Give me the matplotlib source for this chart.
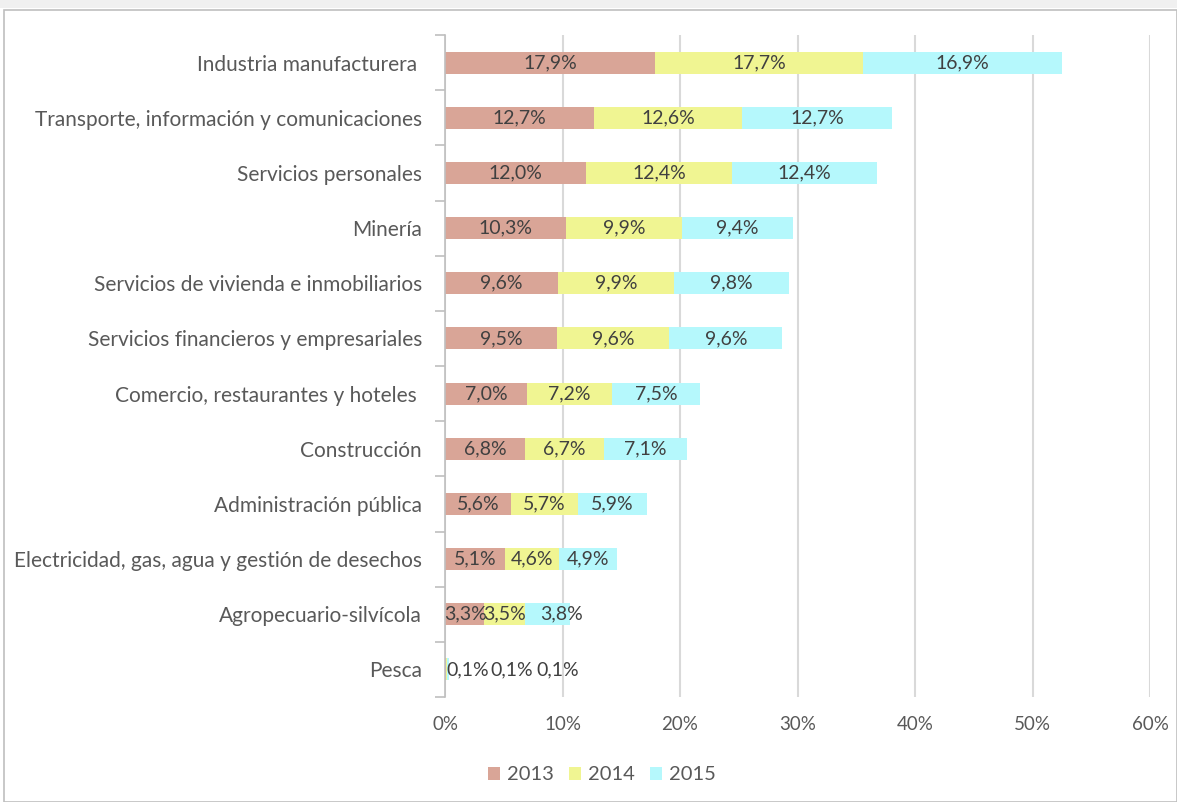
import matplotlib
matplotlib.use("Agg")
import matplotlib.pyplot as plt
from matplotlib.patches import Rectangle
import numpy as np

categories = [
    "Industria manufacturera ",
    "Transporte, información y comunicaciones",
    "Servicios personales",
    "Minería",
    "Servicios de vivienda e inmobiliarios",
    "Servicios financieros y empresariales",
    "Comercio, restaurantes y hoteles ",
    "Construcción",
    "Administración pública",
    "Electricidad, gas, agua y gestión de desechos",
    "Agropecuario-silvícola",
    "Pesca",
]
v2013 = [17.9, 12.7, 12.0, 10.3, 9.6, 9.5, 7.0, 6.8, 5.6, 5.1, 3.3, 0.1]
v2014 = [17.7, 12.6, 12.4, 9.9, 9.9, 9.6, 7.2, 6.7, 5.7, 4.6, 3.5, 0.1]
v2015 = [16.9, 12.7, 12.4, 9.4, 9.8, 9.6, 7.5, 7.1, 5.9, 4.9, 3.8, 0.1]
series = [("2013", v2013), ("2014", v2014), ("2015", v2015)]
xticks = [0, 10, 20, 30, 40, 50, 60]

colors = ["#D9A597", "#F0F592", "#B5F8FC"]
txt = "#404040"
FONT = ["Lato", "DejaVu Sans"]
plt.rcParams["font.family"] = FONT

fig = plt.figure(figsize=(11.77, 8.02), dpi=100)
fig.patches.append(Rectangle((0, 0.99), 1, 0.01, transform=fig.transFigure,
                             facecolor="#F0F0F0", edgecolor="none", zorder=-2))
fig.patches.append(Rectangle((0.0035, 0.0), 0.9965, 0.9875, transform=fig.transFigure,
                             facecolor="white", edgecolor="#BFBFBF", linewidth=1.2, zorder=-1))

ax = fig.add_axes([445/1177, 1 - 697/802, (1150-445)/1177, (697-35)/802])
ax.patch.set_alpha(0)
n = len(categories)
y = np.arange(n)
left = np.zeros(n)
# label offsets (points) for crowded small segments
offsets = {(0, 10): 1, (2, 10): 10, (0, 11): 16, (1, 11): 47, (2, 11): 79}
for si, (name, vals) in enumerate(series):
    vals = np.array(vals)
    ax.barh(y, vals, left=left, height=0.4, color=colors[si], label=name, zorder=3)
    for i in range(n):
        cx = left[i] + vals[i] / 2
        dx = offsets.get((si, i), 0)
        lab = f"{vals[i]:.1f}%".replace(".", ",")
        ax.annotate(lab, (cx, y[i]), xytext=(dx, 0), textcoords="offset points",
                    ha="center", va="center", fontsize=14, color=txt, zorder=4)
    left = left + vals

ax.set_ylim(n - 0.5, -0.5)
ax.set_xlim(0, 60)
ax.set_xticks(xticks)
ax.set_xticklabels([f"{t}%" for t in xticks])
ax.set_yticks(y)
ax.set_yticklabels(categories)
ax.set_yticks(np.arange(-0.5, n, 1), minor=True)
ax.tick_params(axis="y", which="major", length=0, pad=16.5, labelsize=15, labelcolor="#595959")
ax.tick_params(axis="y", which="minor", length=7, color="#BFBFBF", width=1.2)
ax.tick_params(axis="x", length=0, pad=14, labelsize=13.5, labelcolor="#595959")
ax.grid(axis="x", color="#D9D9D9", linewidth=1.5, zorder=0)
for s in ["top", "right", "bottom"]:
    ax.spines[s].set_visible(False)
ax.spines["left"].set_color("#BFBFBF")
ax.spines["left"].set_linewidth(1.2)
ax.spines["left"].set_zorder(5)

leg = fig.legend(loc="center", bbox_to_anchor=(602/1177, 1 - 775/802), ncol=3, frameon=False,
                 fontsize=14.5, handlelength=0.6, handleheight=0.6, handletextpad=0.35,
                 columnspacing=0.75)
for t in leg.get_texts():
    t.set_color("#595959")

fig.savefig("out.png", dpi=100)
